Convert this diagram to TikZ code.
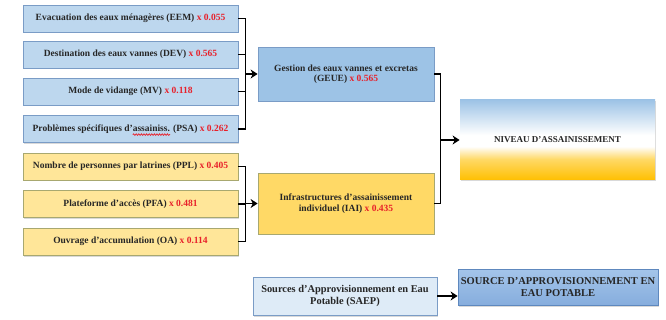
\documentclass[tikz,border=0pt]{standalone}
\usepackage{fontspec}
\setmainfont{Liberation Serif}
\usetikzlibrary{shadows,arrows.meta,decorations.pathmorphing}
\definecolor{bfill}{HTML}{BDD7EE}
\definecolor{bdraw}{HTML}{7A9CC6}
\definecolor{yfill}{HTML}{FFE699}
\definecolor{ydraw}{HTML}{A8A870}
\definecolor{gfill}{HTML}{9DC3E6}
\definecolor{ifill}{HTML}{FFD966}
\definecolor{sfill}{HTML}{DEEBF7}
\definecolor{srctop}{HTML}{A4C5EA}
\definecolor{srcbot}{HTML}{86ADDD}
\definecolor{srcdraw}{HTML}{5E88BE}
\definecolor{rednum}{HTML}{E8202A}
\definecolor{nivtop}{HTML}{9DC3E6}
\definecolor{nivyel}{HTML}{FFD966}
\definecolor{nivbot}{HTML}{FFBF00}
\pgfdeclareverticalshading{nivsh}{100bp}{color(0bp)=(nivbot); color(25bp)=(nivbot); color(38bp)=(nivyel); color(46bp)=(white); color(53bp)=(white); color(75bp)=(nivtop); color(100bp)=(nivtop)}
\newcommand{\rn}[1]{\textcolor{rednum}{#1}}
\newcommand{\boxfont}{\bfseries\fontsize{9.5}{10.5}\selectfont}
\newlength\wfull \newlength\wpre \newlength\wword
\AtBeginDocument{%
\settowidth{\wfull}{\boxfont Problèmes spécifiques d’assainiss. (PSA) x 0.262}%
\settowidth{\wpre}{\boxfont Problèmes spécifiques d’}%
\settowidth{\wword}{\boxfont assainiss.}}
\tikzset{
  base/.style={rectangle, font=\boxfont, text=black!85, align=center, line width=0.8pt, inner sep=1pt,
     drop shadow={opacity=0.3, shadow xshift=1.2pt, shadow yshift=-1.5pt}},
  bluebox/.style={base, fill=bfill, draw=bdraw, minimum width=215pt, minimum height=27pt},
  yelbox/.style={base, fill=yfill, draw=ydraw, minimum width=215pt, minimum height=27pt},
  conn/.style={line width=1.5pt, black},
  arr/.style={conn, -{Stealth[length=7pt,width=9pt]}},
  spell/.style={draw=rednum, line width=0.7pt, decorate, decoration={snake, amplitude=0.8pt, segment length=2.6pt}},
}
\begin{document}
\begin{tikzpicture}[x=1pt,y=-1pt]
\useasboundingbox (0,0) rectangle (666,320);
\node[bluebox] (eem) at (130.5,18.5) {Evacuation des eaux ménagères (EEM) \rn{x 0.055}};
\node[bluebox] (dev) at (130.5,54.5) {Destination des eaux vannes (DEV) \rn{x 0.565}};
\node[bluebox] (mv) at (130.5,91.5) {Mode de vidange (MV) \rn{x 0.118}};
\node[bluebox] (psa) at (130.5,129) {Problèmes spécifiques d’assainiss. (PSA) \rn{x 0.262}};
\node[yelbox] (ppl) at (130.5,166.5) {Nombre de personnes par latrines (PPL) \rn{x 0.405}};
\node[yelbox] (pfa) at (130.5,204) {Plateforme d’accès (PFA) \rn{x 0.481}};
\node[yelbox] (oa) at (130.5,241.5) {Ouvrage d’accumulation (OA) \rn{x 0.114}};
\node[base, fill=gfill, draw=bdraw, minimum width=176pt, minimum height=54pt] (geue) at (346,74) {Gestion des eaux vannes et excretas\\(GEUE) \rn{x 0.565}};
\node[base, fill=ifill, draw=ydraw, minimum width=176pt, minimum height=61pt] (iai) at (346,203.5) {Infrastructures d’assainissement\\individuel (IAI) \rn{x 0.435}};
\node[base, shading=nivsh, draw=none, minimum width=195pt, minimum height=80pt, font=\bfseries\fontsize{9}{10}\selectfont] (niv) at (557.5,140) {NIVEAU D’ASSAINISSEMENT};
\node[base, fill=sfill, draw=bdraw, minimum width=184pt, minimum height=38pt, font=\bfseries\fontsize{10.4}{11.2}\selectfont] (saep) at (345,296) {Sources d’Approvisionnement en Eau\\Potable (SAEP)};
\node[base, top color=srctop, bottom color=srcbot, draw=srcdraw, minimum width=200pt, minimum height=36pt, font=\bfseries\fontsize{10.5}{11.5}\selectfont] (src) at (558,287) {SOURCE D’APPROVISIONNEMENT EN\\EAU POTABLE};
% spell-check squiggle
\coordinate (sqs) at ([xshift=-0.5\wfull+\wpre, yshift=-5.6pt]psa.center);
\coordinate (sqe) at ([xshift=-0.5\wfull+\wpre+\wword, yshift=-5.6pt]psa.center);
\path[spell] (sqs) -- (sqe);
% left blue bus
\draw[conn] (eem.east) -- ++(7,0) |- (psa.east);
\draw[conn] (mv.east) -- ++(7,0);
\draw[arr] (dev.east) -- ++(7,0) |- (geue.west);
% yellow bus
\draw[conn] (ppl.east) -- ++(7,0) |- (oa.east);
\draw[arr] (pfa.east) -- ++(7,0) |- (iai.west);
% right bus
\draw[conn] (geue.east) -- ++(6,0) |- (iai.east);
\draw[arr] (geue.east) -- ++(6,0) |- (niv.west);
% saep
\draw[arr] (saep.east) -- (saep.east -| src.west);
\end{tikzpicture}
\end{document}
